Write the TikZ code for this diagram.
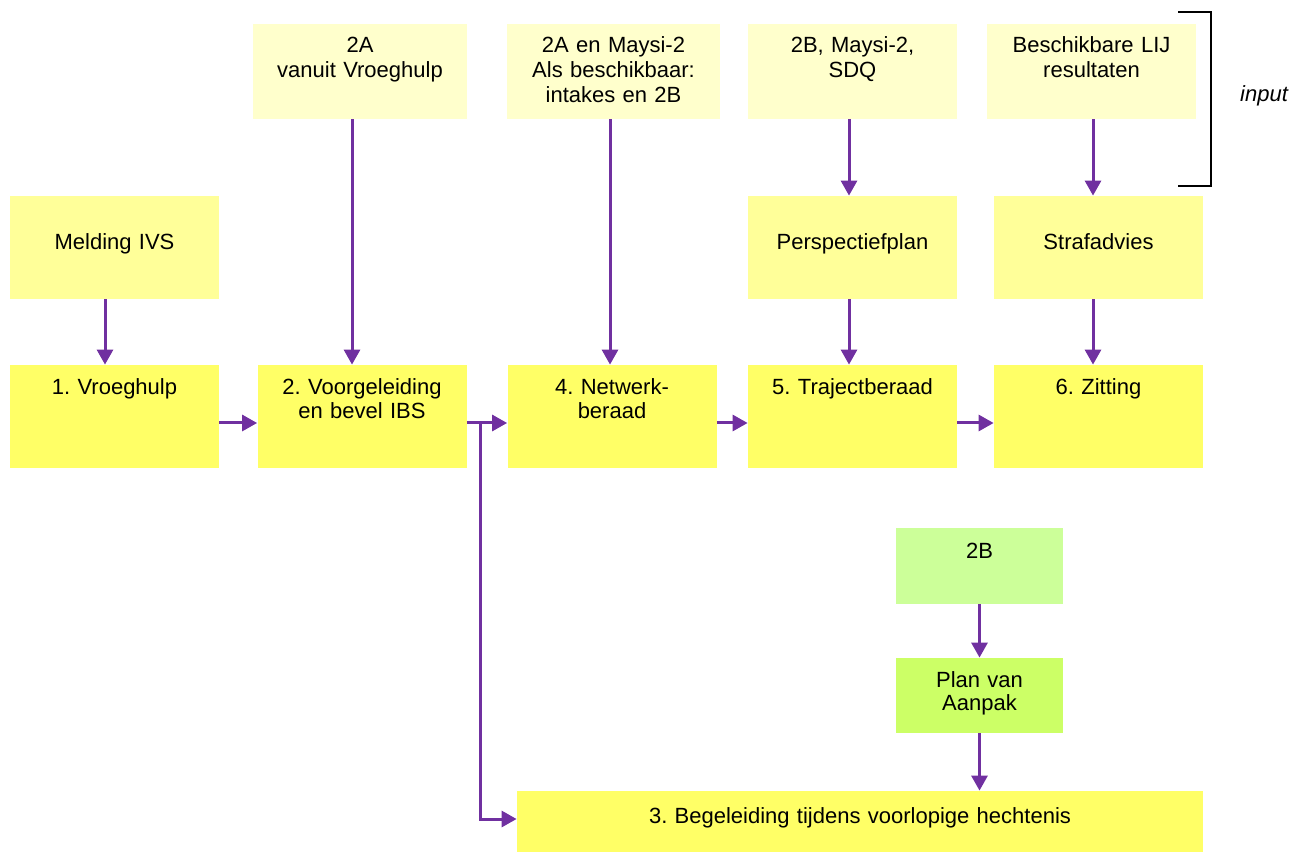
\documentclass[tikz,border=0pt]{standalone}
\usepackage{fontspec}
\setmainfont{Liberation Sans}
\usetikzlibrary{arrows.meta}
\frenchspacing

\definecolor{stagefill}{HTML}{FFFF66}
\definecolor{prepfill}{HTML}{FFFF99}
\definecolor{inputfill}{HTML}{FFFFCC}
\definecolor{lightgreen}{HTML}{CCFF99}
\definecolor{limegreen}{HTML}{CCFF66}
\definecolor{flowpurple}{HTML}{7030A0}

\begin{document}
\begin{tikzpicture}[x=0.5pt,y=-0.5pt,
    box/.style={inner sep=0pt,align=center,font=\fontsize{11}{11.6}\selectfont},
    stage/.style={box,fill=stagefill,text width=104.5pt,text height=15pt,text depth=36.5pt},
    prep/.style={box,fill=prepfill,text width=104.5pt,text height=27pt,text depth=24.5pt},
    inputbox/.style={box,fill=inputfill,text width=104.5pt,text height=14.5pt,text depth=33pt,font=\fontsize{11}{12.3}\selectfont},
    greenbox/.style={box,text width=83.5pt,text height=15pt,text depth=23pt},
    flow/.style={draw=flowpurple,line width=1.5pt,-{Triangle[length=7.5pt,width=8pt]}}]
    \useasboundingbox (0,0) rectangle (1293,854);

    \begin{scope}
        \node[prep] (melding) at (114.5,247.5) {Melding IVS};
        \node[stage] (vroeg) at (114.5,416.5) {1. Vroeghulp};
        \node[stage] (voor) at (362,416.5) {2. Voorgeleiding\\en bevel IBS};
        \node[stage] (netw) at (612,416.5) {4. Netwerk-\\beraad};
        \node[stage] (traject) at (852.5,416.5) {5. Trajectberaad};
        \node[stage] (zitting) at (1098.5,416.5) {6. Zitting};
        \node[inputbox,text width=107pt] (inA) at (360,71.5) {2A\\vanuit Vroeghulp};
        \node[inputbox,text width=106.5pt] (inB) at (613.5,71.5) {2A en Maysi-2\\Als beschikbaar:\\intakes en 2B};
        \node[inputbox] (inC) at (852.5,71.5) {2B, Maysi-2,\\SDQ};
        \node[inputbox] (inD) at (1091.5,71.5) {Beschikbare LIJ\\resultaten};
        \node[prep] (persp) at (852.5,247.5) {Perspectiefplan};
        \node[prep] (straf) at (1098.5,247.5) {Strafadvies};
        \node[greenbox,fill=lightgreen] (twee) at (979.5,566) {2B};
        \node[greenbox,fill=limegreen,text height=14.5pt,text depth=23pt] (aanpak) at (979.5,695.5) {Plan van\\Aanpak};
        \node[stage,text width=343pt,text height=16pt,text depth=14.5pt] (begel) at (860,821.5) {3. Begeleiding tijdens voorlopige hechtenis};
        \node[box,font=\fontsize{11}{12}\selectfont\itshape] (inputlabel) at (1264,96) {input};
    \end{scope}

    \begin{scope}
        \draw[flow] ([xshift=-4.75pt]melding.south) -- ([xshift=-4.75pt]melding.south |- vroeg.north);
        \draw[flow] ([xshift=-4pt]inA.south) -- ([xshift=-4pt]inA.south |- voor.north);
        \draw[flow] ([xshift=-1.75pt]inB.south) -- ([xshift=-1.75pt]inB.south |- netw.north);
        \draw[flow] ([xshift=-1.75pt]inC.south) -- ([xshift=-1.75pt]inC.south |- persp.north);
        \draw[flow] ([xshift=-1.75pt]persp.south) -- ([xshift=-1.75pt]persp.south |- traject.north);
        \draw[flow] ([xshift=0.75pt]inD.south) -- ([xshift=0.75pt]inD.south |- straf.north);
        \draw[flow] ([xshift=-2.75pt]straf.south) -- ([xshift=-2.75pt]straf.south |- zitting.north);
        \draw[flow] (twee.south) -- (aanpak.north);
        \draw[flow] (aanpak.south) -- (aanpak.south |- begel.north);
        \draw[flow] ([yshift=-3.25pt]vroeg.east) -- ([yshift=-3.25pt]vroeg.east -| voor.west);
        \draw[flow] ([yshift=-3.25pt]voor.east) -- ([yshift=-3.25pt]voor.east -| netw.west);
        \draw[flow] ([xshift=7pt,yshift=-3.25pt]voor.east) |- ([yshift=1.25pt]begel.west);
        \draw[flow] ([yshift=-3.25pt]netw.east) -- ([yshift=-3.25pt]netw.east -| traject.west);
        \draw[flow] ([yshift=-3.25pt]traject.east) -- ([yshift=-3.25pt]traject.east -| zitting.west);
        \draw[line width=0.75pt] (1178,12) -| (1211,186) -- (1178,186);
    \end{scope}
\end{tikzpicture}
\end{document}
